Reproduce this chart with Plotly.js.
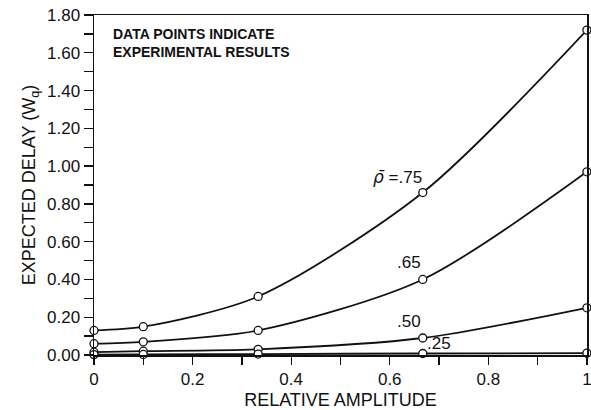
<!DOCTYPE html>
<html><head><meta charset="utf-8">
<script src="https://cdn.plot.ly/plotly-3.0.1.min.js"></script>
<style>body{margin:0;background:#fff}#c{width:591px;height:410px}</style>
</head><body><div id="c"></div>
<script>
const amplitude = [0, 0.1, 0.333, 0.667, 1];
const rho75 = [0.13, 0.15, 0.31, 0.86, 1.72];
const rho65 = [0.06, 0.07, 0.13, 0.40, 0.97];
const rho50 = [0.015, 0.02, 0.03, 0.09, 0.25];
const rho25 = [0.002, 0.003, 0.005, 0.008, 0.01];
const seriesNames = ['ρ=.75', 'ρ=.65', 'ρ=.50', 'ρ=.25'];
const xTickVals = [0, 0.2, 0.4, 0.6, 0.8, 1];
const xTickText = ['0', '0.2', '0.4', '0.6', '0.8', '1'];

const F = 'Liberation Sans, Arial, sans-serif';
const traces = [rho75, rho65, rho50, rho25].map((y, i) => ({
  x: amplitude, y: y, name: seriesNames[i], type: 'scatter', mode: 'lines+markers',
  line: {color: '#111', width: 1.8, shape: 'spline', smoothing: 0.8},
  marker: {symbol: 'circle', size: 8, color: '#fff', line: {color: '#111', width: 1.3}},
  cliponaxis: false, showlegend: false
}));

const layout = {
  width: 591, height: 410,
  margin: {l: 94, r: 4, t: 15, b: 55},
  paper_bgcolor: '#fff', plot_bgcolor: '#fff',
  font: {family: F, color: '#111', size: 17},
  xaxis: {
    range: [0, 1.0002], tickvals: xTickVals, ticktext: xTickText, ticklabeloverflow: 'allow',
    showgrid: false, zeroline: false, showline: true, linecolor: '#111', linewidth: 1.5, mirror: true,
    ticks: 'outside', ticklen: 8, tickwidth: 1.3, tickcolor: '#111',
    minor: {dtick: 0.1, ticks: 'outside', ticklen: 8, tickwidth: 1.3, tickcolor: '#111', showgrid: false},
    tickfont: {size: 17, family: F},
    title: {text: 'RELATIVE AMPLITUDE', font: {size: 18, family: F}, standoff: 8}
  },
  yaxis: {
    range: [0, 1.8], dtick: 0.2, tick0: 0, tickformat: '.2f',
    showgrid: false, zeroline: false, showline: true, linecolor: '#111', linewidth: 1.5, mirror: true,
    ticks: 'outside', ticklen: 9, tickwidth: 1.3, tickcolor: '#111',
    minor: {dtick: 0.1, ticks: 'outside', ticklen: 9, tickwidth: 1.3, tickcolor: '#111', showgrid: false},
    tickfont: {size: 17, family: F},
    title: {text: 'EXPECTED DELAY (W<sub>q</sub>)', font: {size: 18, family: F}, standoff: 6}
  },
  annotations: [
    {x: 0.035, y: 1.75, xref: 'x', yref: 'y', xanchor: 'left', yanchor: 'top', align: 'left', showarrow: false,
     text: '<b>DATA POINTS INDICATE<br>EXPERIMENTAL RESULTS</b>', font: {size: 14, family: F}},
    {x: 0.615, y: 0.94, xref: 'x', yref: 'y', showarrow: false,
     text: '<span style="font-family:DejaVu Sans"><i>ρ̄</i></span> =.75', font: {size: 17, family: F}},
    {x: 0.64, y: 0.49, xref: 'x', yref: 'y', showarrow: false, text: '.65', font: {size: 17, family: F}},
    {x: 0.64, y: 0.175, xref: 'x', yref: 'y', showarrow: false, text: '.50', font: {size: 17, family: F}},
    {x: 0.70, y: 0.06, xref: 'x', yref: 'y', showarrow: false, text: '.25', font: {size: 17, family: F}}
  ]
};
Plotly.newPlot('c', traces, layout, {staticPlot: true, displayModeBar: false});
</script></body></html>
